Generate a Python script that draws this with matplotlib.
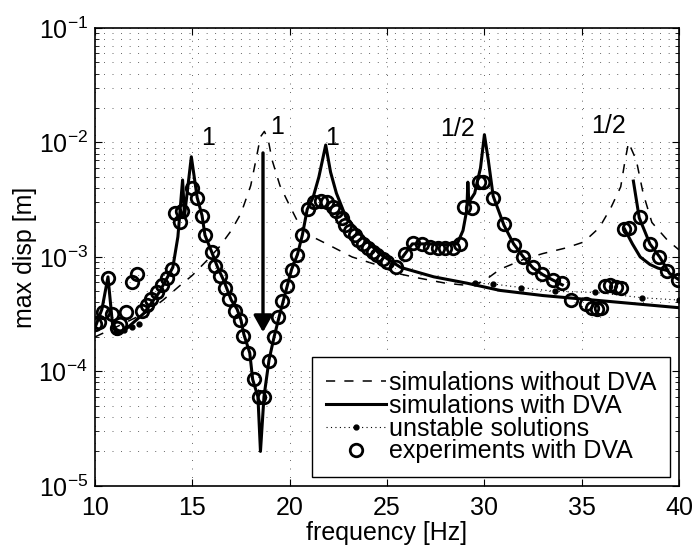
import numpy as np
import matplotlib
matplotlib.use("Agg")
import matplotlib.pyplot as plt

plt.rcParams['font.family'] = ['Liberation Sans', 'DejaVu Sans']
plt.rcParams['mathtext.default'] = 'regular'

# simulations without DVA (dashed)
f_nodva = [10.0, 11.0, 12.0, 12.7, 13.5, 14.3, 15.0, 15.8, 16.4, 17.0, 17.5, 18.0, 18.3, 18.5,
           18.7, 18.9, 19.1, 19.5, 20.0, 20.5, 21.0, 21.9, 23.2, 24.5, 25.5, 26.5, 28.0, 29.3,
           30.0, 30.8, 32.0, 33.0, 34.2, 35.1, 35.9, 36.5, 37.0, 37.2, 37.4, 37.8, 38.15, 38.6,
           39.4, 40.0]
d_nodva = [2.0e-4, 2.4e-4, 2.9e-4, 3.3e-4, 4.2e-4, 5.5e-4, 6.9e-4, 9.5e-4, 1.23e-3, 1.7e-3,
           2.4e-3, 4.2e-3, 7.5e-3, 1.12e-2, 1.25e-2, 1.05e-2, 7.0e-3, 4.2e-3, 2.8e-3, 1.9e-3,
           1.55e-3, 1.3e-3, 1.0e-3, 8.5e-4, 7.2e-4, 6.6e-4, 5.9e-4, 5.6e-4, 6.2e-4, 7.8e-4,
           9.5e-4, 1.07e-3, 1.2e-3, 1.35e-3, 1.8e-3, 2.7e-3, 4.1e-3, 6.6e-3, 1.0e-2, 7.0e-3,
           3.6e-3, 2.0e-3, 1.4e-3, 1.15e-3]

# simulations with DVA (solid), main branch + side branches
f_dva = [10.0, 10.36, 10.67, 10.9, 11.1, 11.6, 12.5, 13.3, 14.0, 14.26, 14.5, 14.6, 14.95,
         15.25, 15.5, 15.65, 16.0, 16.3, 16.6, 17.0, 17.3, 17.5, 17.65, 17.95, 18.1, 18.37,
         18.5, 18.68, 18.94, 19.2, 19.5, 19.8, 20.1, 20.4, 20.65, 20.9, 21.2, 21.5, 21.85,
         22.1, 22.4, 22.9, 23.8, 24.6, 25.7, 27.4, 29.1, 30.8, 33.0, 36.3, 40.0]
d_dva = [2.4e-4, 3.5e-4, 6.7e-4, 2.6e-4, 2.1e-4, 2.35e-4, 3.2e-4, 4.9e-4, 8.1e-4, 1.5e-3,
         4.7e-3, 2.3e-3, 7.5e-3, 3.3e-3, 2.3e-3, 1.55e-3, 1.1e-3, 8.1e-4, 6.3e-4, 4.2e-4,
         3.5e-4, 2.8e-4, 2.1e-4, 1.45e-4, 8.5e-5, 6.0e-5, 2.0e-5, 6.0e-5, 1.26e-4, 2.0e-4,
         3.2e-4, 5.0e-4, 7.8e-4, 1.05e-3, 1.55e-3, 2.6e-3, 3.3e-3, 5.0e-3, 9.5e-3, 5.5e-3,
         3.6e-3, 2.2e-3, 1.48e-3, 1.07e-3, 8.1e-4, 6.7e-4, 5.9e-4, 5.1e-4, 4.6e-4, 4.1e-4,
         3.6e-4]
f_dva_b1 = [25.8, 26.3, 27.0, 28.0, 28.6, 28.9, 29.1, 29.15, 29.2, 29.5, 29.8, 30.0, 30.2,
            30.45, 31.0, 31.5, 32.0, 32.5, 33.0, 33.5, 34.0]
d_dva_b1 = [1.0e-3, 1.3e-3, 1.3e-3, 1.28e-3, 1.3e-3, 1.7e-3, 2.6e-3, 4.5e-3, 3.0e-3, 3.6e-3,
            6.0e-3, 1.17e-2, 7.0e-3, 3.4e-3, 1.9e-3, 1.3e-3, 1.0e-3, 8.0e-4, 7.0e-4, 6.3e-4,
            5.7e-4]
f_dva_b2 = [37.65, 37.95, 38.5, 39.0, 39.5, 40.0]
d_dva_b2 = [4.6e-3, 2.2e-3, 1.3e-3, 1.0e-3, 7.2e-4, 6.3e-4]
f_dva_b3 = [37.2, 37.6, 38.0, 38.5, 38.9, 39.4]
d_dva_b3 = [1.75e-3, 1.3e-3, 1.0e-3, 8.6e-4, 8.0e-4, 7.6e-4]

# unstable solutions (dotted)
f_unst1 = [11.1, 11.5, 11.9, 12.25]
d_unst1 = [2.2e-4, 2.3e-4, 2.45e-4, 2.6e-4]
f_unst2 = [29.5, 30.45, 31.9, 33.6, 35.7, 38.1, 40.0]
d_unst2 = [5.9e-4, 5.8e-4, 5.4e-4, 5.0e-4, 4.9e-4, 4.4e-4, 4.2e-4]

# experiments with DVA (circles)
f_exp = [10.0, 10.2, 10.4, 10.67, 10.9, 11.15, 11.3, 11.6, 11.9, 12.15, 12.4, 12.67, 12.9,
         13.2, 13.45, 13.7, 13.95, 14.1, 14.37, 14.47, 14.98, 15.24, 15.5, 15.65, 16.0, 16.16,
         16.4, 16.7, 16.9, 17.2, 17.45, 17.6, 17.87, 18.15, 18.4, 18.68, 18.92, 19.17, 19.42,
         19.62, 19.87, 20.1, 20.37, 20.63, 20.92, 21.25, 21.6, 21.93, 22.2, 22.4, 22.7, 22.85,
         23.1, 23.35, 23.5, 23.76, 24.0, 24.3, 24.5, 24.8, 25.0, 25.45, 25.9, 26.35, 26.8,
         27.2, 27.6, 28.0, 28.4, 28.75, 28.95, 29.35, 29.7, 29.95, 30.45, 31.0, 31.5, 32.0,
         32.5, 32.98, 33.5, 34.0, 34.45, 35.2, 35.5, 35.8, 36.0, 36.2, 36.45, 36.75, 37.02,
         37.15, 37.45, 38.0, 38.5, 38.95, 39.4, 39.95]
d_exp = [2.6e-4, 2.7e-4, 3.3e-4, 6.6e-4, 3.2e-4, 2.4e-4, 2.6e-4, 3.3e-4, 6.1e-4, 7.1e-4,
         3.4e-4, 3.8e-4, 4.3e-4, 4.9e-4, 5.7e-4, 6.6e-4, 7.8e-4, 2.4e-3, 2.0e-3, 2.5e-3,
         4.0e-3, 3.3e-3, 2.3e-3, 1.55e-3, 1.1e-3, 8.4e-4, 6.8e-4, 5.4e-4, 4.3e-4, 3.4e-4,
         2.8e-4, 2.05e-4, 1.45e-4, 8.5e-5, 6.0e-5, 6.0e-5, 1.23e-4, 2.0e-4, 3.0e-4, 4.1e-4,
         5.6e-4, 7.7e-4, 1.05e-3, 1.55e-3, 2.6e-3, 3.0e-3, 3.1e-3, 3.0e-3, 2.75e-3, 2.5e-3,
         2.2e-3, 1.9e-3, 1.7e-3, 1.55e-3, 1.4e-3, 1.3e-3, 1.2e-3, 1.1e-3, 1.05e-3, 9.5e-4,
         9.0e-4, 8.1e-4, 1.07e-3, 1.32e-3, 1.3e-3, 1.22e-3, 1.2e-3, 1.2e-3, 1.2e-3, 1.3e-3,
         2.75e-3, 2.65e-3, 4.5e-3, 4.5e-3, 3.3e-3, 1.95e-3, 1.28e-3, 1.0e-3, 8.1e-4, 7.1e-4,
         6.3e-4, 5.9e-4, 4.2e-4, 3.85e-4, 3.6e-4, 3.5e-4, 3.6e-4, 5.6e-4, 5.7e-4, 5.5e-4,
         5.4e-4, 1.74e-3, 1.8e-3, 2.25e-3, 1.3e-3, 1.0e-3, 7.5e-4, 6.3e-4]

# peak labels
peak_labels = ['1', '1', '1', '1/2', '1/2']
peak_f = [15.8, 19.35, 22.2, 28.6, 36.35]
peak_d = [1.1e-2, 1.37e-2, 1.1e-2, 1.3e-2, 1.4e-2]

fs = 18
fig = plt.figure(figsize=(6.93, 5.49), dpi=100)
ax = fig.add_axes([0.137, 0.115, 0.843, 0.834])

grid_ls = (0, (0.8, 8))
ax.set_yscale('log')
ax.set_xlim(10, 40)
ax.set_ylim(1e-5, 1e-1)
ax.set_xticks([10, 15, 20, 25, 30, 35, 40])
ax.grid(True, which='major', axis='x', color='0.25', linestyle=grid_ls, linewidth=0.7)
ax.grid(True, which='both', axis='y', color='0.25', linestyle=grid_ls, linewidth=0.7)
ax.set_axisbelow(True)

l1, = ax.plot(f_nodva, d_nodva, color='k', lw=1.1, dashes=(6, 6),
              label='simulations without DVA')
l2, = ax.plot(f_dva, d_dva, color='k', lw=2.2, label='simulations with DVA')
ax.plot(f_dva_b1, d_dva_b1, color='k', lw=2.2)
ax.plot(f_dva_b2, d_dva_b2, color='k', lw=2.2)
ax.plot(f_dva_b3, d_dva_b3, color='k', lw=2.2)
l3, = ax.plot(f_unst2, d_unst2, color='k', lw=0.8, linestyle=(0, (1, 3)), marker='.',
              markersize=7, label='unstable solutions')
ax.plot(f_unst1, d_unst1, color='k', lw=0.8, linestyle=(0, (1, 3)), marker='.', markersize=7)
l4, = ax.plot(f_exp, d_exp, linestyle='none', marker='o', markersize=9, mfc='none',
              mec='k', mew=2.0, label='experiments with DVA')

ax.annotate('', xy=(18.63, 2.2e-4), xytext=(18.63, 8.1e-3),
            arrowprops=dict(arrowstyle='-|>,head_length=0.5,head_width=0.28', lw=2.4,
                            color='k', mutation_scale=20, shrinkA=0, shrinkB=0))

for lab, x, y in zip(peak_labels, peak_f, peak_d):
    ax.text(x, y, lab, fontsize=fs, ha='center', va='center')

ax.set_xlabel('frequency [Hz]', fontsize=fs, labelpad=1)
ax.set_ylabel('max disp [m]', fontsize=fs)
ax.yaxis.set_label_coords(-0.1, 0.5)
ax.tick_params(which='both', direction='in', top=True, right=True, labelsize=fs)
ax.tick_params(axis='y', which='major', length=5, width=0.8, pad=5)
ax.tick_params(axis='x', which='major', length=5, width=0.8, pad=7)
ax.tick_params(which='minor', length=3, width=0.6)
for s in ax.spines.values():
    s.set_linewidth(1.2)

leg = ax.legend(handles=[l1, l2, l3, l4], loc='lower right', fontsize=fs, frameon=True,
                fancybox=False, edgecolor='k', framealpha=1, handlelength=2.4,
                handletextpad=0.15, labelspacing=-0.05, borderpad=0.55, borderaxespad=0.35)
leg.get_frame().set_linewidth(1.0)

fig.savefig('out.png', dpi=100)
